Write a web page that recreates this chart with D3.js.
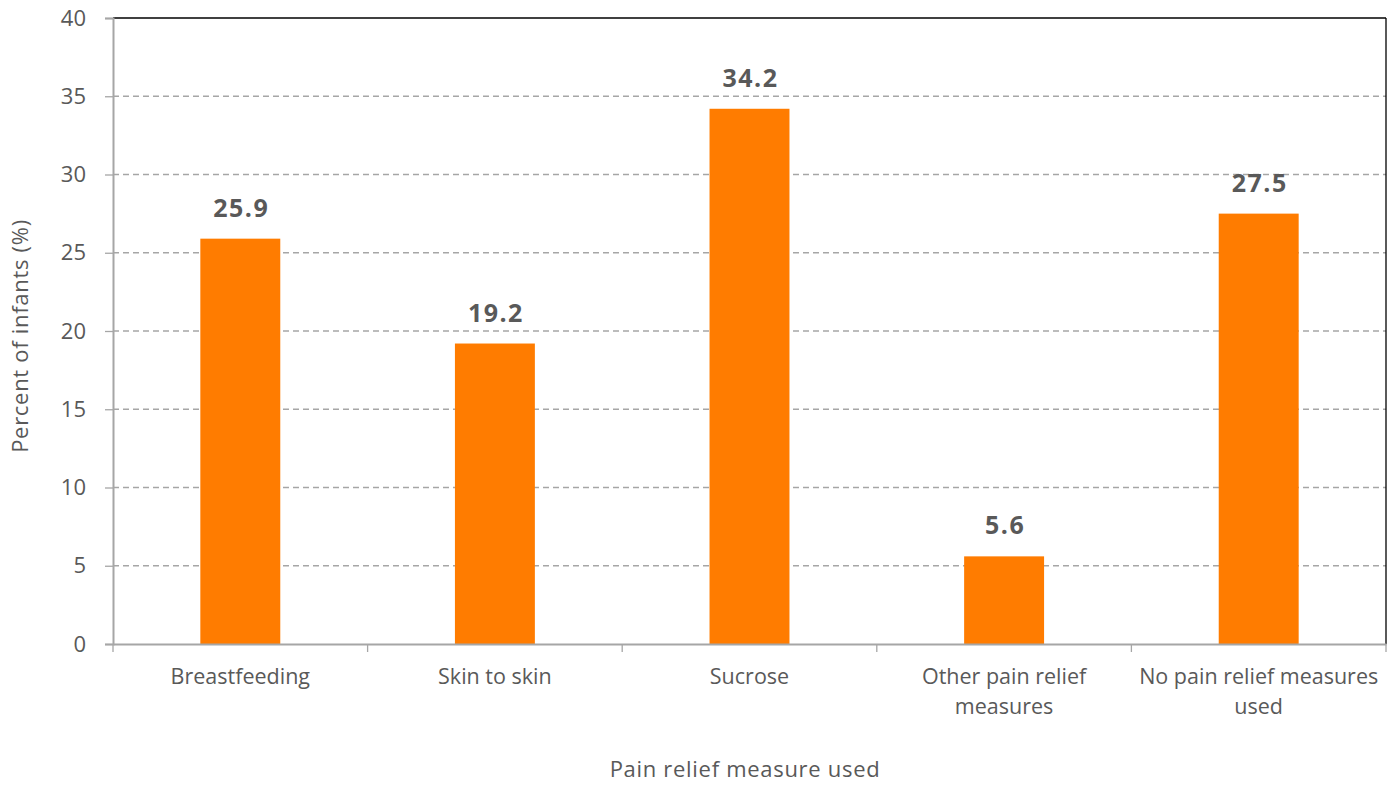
<!DOCTYPE html>
<html><head><meta charset="utf-8">
<script src="https://cdn.jsdelivr.net/npm/d3@7"></script>
<style>body{margin:0;background:#fff;} text{font-family:"Open Sans","Liberation Sans",sans-serif;}</style>
</head><body>
<svg id="chart" width="1396" height="785"></svg>
<script>
const categories = ["Breastfeeding", "Skin to skin", "Sucrose", "Other pain relief measures", "No pain relief measures used"];
const categoryLines = [["Breastfeeding"], ["Skin to skin"], ["Sucrose"], ["Other pain relief", "measures"], ["No pain relief measures", "used"]];
const values = [25.9, 19.2, 34.2, 5.6, 27.5];
const yTicks = [0, 5, 10, 15, 20, 25, 30, 35, 40];
const xTitle = "Pain relief measure used";
const yTitle = "Percent of infants (%)";

const svg = d3.select("#chart");
const m = {left: 113, right: 1386, top: 18, bottom: 644};
const x = d3.scaleBand().domain(categories).range([m.left, m.right]).paddingInner(0.686).paddingOuter(0.343);
const y = d3.scaleLinear().domain([0, 40]).range([m.bottom, m.top]);
const grey = "#595959";

// gridlines
svg.append("g").selectAll("line").data(yTicks.filter(t => t > 0 && t < 40)).join("line")
  .attr("x1", m.left).attr("x2", m.right).attr("y1", d => y(d)).attr("y2", d => y(d))
  .attr("stroke", "#a6a6a6").attr("stroke-width", 1.3).attr("stroke-dasharray", "6,4");

// plot border top/right
svg.append("line").attr("x1", m.left).attr("x2", m.right).attr("y1", m.top).attr("y2", m.top).attr("stroke", "#000").attr("stroke-width", 1.3);
svg.append("line").attr("x1", m.right).attr("x2", m.right).attr("y1", m.top).attr("y2", m.bottom).attr("stroke", "#000").attr("stroke-width", 1.3);

// bars
svg.append("g").selectAll("rect").data(values).join("rect")
  .attr("x", (d, i) => x(categories[i])).attr("width", x.bandwidth())
  .attr("y", d => y(d)).attr("height", d => y(0) - y(d)).attr("fill", "#ff7c00");

// value labels
svg.append("g").selectAll("text").data(values).join("text")
  .attr("x", (d, i) => x(categories[i]) + x.bandwidth() / 2 + 1).attr("y", d => y(d) - 22)
  .attr("text-anchor", "middle").attr("font-size", 25).attr("font-weight", "bold").attr("fill", grey)
  .attr("letter-spacing", 1.5)
  .text(d => d.toFixed(1));

// y axis
const yAxis = svg.append("g").attr("transform", `translate(${m.left},0)`)
  .call(d3.axisLeft(y).tickValues(yTicks).tickSize(8).tickPadding(19));
yAxis.select(".domain").attr("stroke", "#a6a6a6").attr("stroke-width", 2);
yAxis.selectAll(".tick line").attr("stroke", "#a6a6a6").attr("stroke-width", 1.3);
yAxis.selectAll(".tick text").attr("font-size", 22).attr("fill", grey).attr("font-family", "'Open Sans','Liberation Sans',sans-serif");

// x axis
const xAxis = svg.append("g").attr("transform", `translate(0,${m.bottom})`)
  .call(d3.axisBottom(x).tickSize(0).tickFormat(""));
xAxis.select(".domain").attr("stroke", "#a6a6a6").attr("stroke-width", 2);
xAxis.selectAll(".tick").remove();
const bounds = [m.left].concat(categories.map(c => x(c) + x.bandwidth() / 2 + x.step() / 2));
xAxis.selectAll("line.sep").data(bounds).join("line").attr("class", "sep")
  .attr("x1", d => d).attr("x2", d => d).attr("y1", 0).attr("y2", 8)
  .attr("stroke", "#a6a6a6").attr("stroke-width", 1.3);

// category labels
categories.forEach((c, i) => {
  const t = svg.append("text").attr("x", x(c) + x.bandwidth() / 2).attr("y", 684)
    .attr("text-anchor", "middle").attr("font-size", 21.5).attr("fill", grey);
  categoryLines[i].forEach((line, j) => {
    t.append("tspan").attr("x", x(c) + x.bandwidth() / 2).attr("dy", j === 0 ? 0 : 30).text(line);
  });
});

// titles
svg.append("text").attr("x", 745).attr("y", 777).attr("text-anchor", "middle")
  .attr("font-size", 22).attr("letter-spacing", 0.7).attr("fill", grey).text(xTitle);
svg.append("text").attr("transform", `translate(28,336) rotate(-90)`)
  .attr("text-anchor", "middle").attr("font-size", 22).attr("letter-spacing", 0.7).attr("fill", grey).text(yTitle);
</script>
</body></html>
